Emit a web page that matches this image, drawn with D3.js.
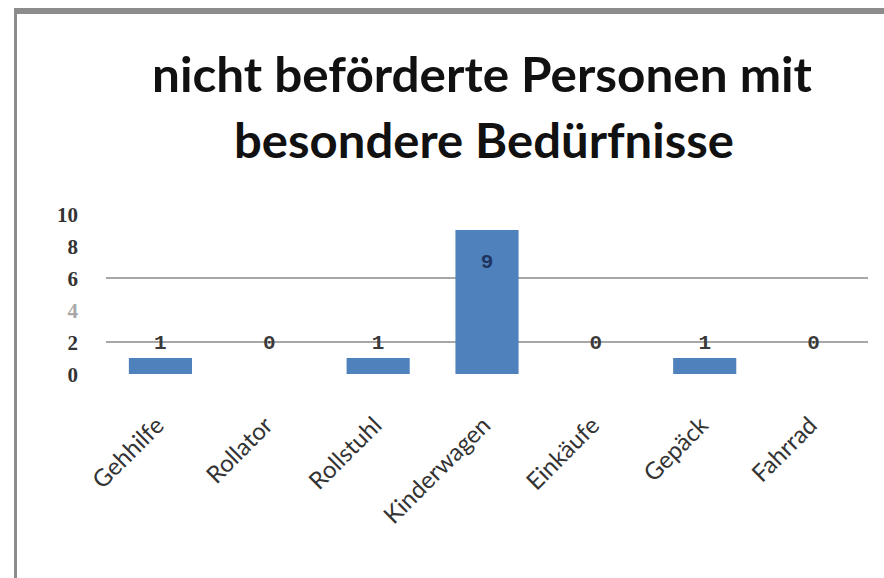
<!DOCTYPE html>
<html>
<head>
<meta charset="utf-8">
<script src="https://cdn.jsdelivr.net/npm/d3@7"></script>
<style>
  html, body { margin: 0; padding: 0; background: #fff; }
  svg { display: block; }
</style>
</head>
<body>
<svg id="chart" width="884" height="578"></svg>
<script>
const titleLines = ["nicht beförderte Personen mit", "besondere Bedürfnisse"];
const categories = ["Gehhilfe", "Rollator", "Rollstuhl", "Kinderwagen", "Einkäufe", "Gepäck", "Fahrrad"];
const values = [1, 0, 1, 9, 0, 1, 0];
const yTicks = [0, 2, 4, 6, 8, 10];
const gridValues = [2, 6];

const W = 884, H = 578;
const svg = d3.select("#chart");

// frame (cropped chart border)
svg.append("rect").attr("x", 14).attr("y", 8).attr("width", W - 14).attr("height", 6).attr("fill", "#8c8c8c");
svg.append("rect").attr("x", 14).attr("y", 8).attr("width", 3).attr("height", H - 8).attr("fill", "#8c8c8c");

// title
const titleG = svg.append("g");
const titleWidths = [660, 500];
const titleY = [92, 158];
const titleX = [482, 484];
titleLines.forEach((t, i) => {
  titleG.append("text")
    .attr("x", titleX[i]).attr("y", titleY[i])
    .attr("text-anchor", "middle")
    .attr("font-family", "Lato, 'Open Sans', sans-serif")
    .attr("font-weight", 700)
    .attr("font-size", 47)
    .attr("fill", "#111")
    .attr("textLength", titleWidths[i])
    .attr("lengthAdjust", "spacingAndGlyphs")
    .text(t);
});

// scales
const plotLeft = 106, plotRight = 868;
const x = d3.scaleBand().domain(categories).range([plotLeft, plotRight]).paddingInner(0.42).paddingOuter(0.21);
const y = d3.scaleLinear().domain([0, 10]).range([374, 214]);

// gridlines
svg.append("g").selectAll("line").data(gridValues).join("line")
  .attr("x1", plotLeft).attr("x2", plotRight)
  .attr("y1", d => y(d)).attr("y2", d => y(d))
  .attr("stroke", "#8a8a8a").attr("stroke-width", 1.6);

// y axis labels
const yAxis = d3.axisLeft(y).tickValues(yTicks).tickSize(0).tickPadding(0).tickFormat(d3.format("d"));
const yg = svg.append("g").attr("transform", "translate(78,0)").call(yAxis);
yg.select(".domain").remove();
yg.selectAll("text")
  .attr("font-family", "'Liberation Serif', 'DejaVu Serif', serif")
  .attr("font-size", 21)
  .attr("font-weight", 700)
  .attr("fill", d => d === 4 ? "#a8a8a8" : "#333")
  .attr("dy", "0.35em");

// bars
svg.append("g").selectAll("rect").data(categories).join("rect")
  .attr("x", d => x(d))
  .attr("y", (d, i) => y(values[i]))
  .attr("width", x.bandwidth())
  .attr("height", (d, i) => y(0) - y(values[i]))
  .attr("fill", "#4f81bd");

// data labels
svg.append("g").selectAll("text").data(categories).join("text")
  .attr("x", d => x(d) + x.bandwidth() / 2)
  .attr("y", (d, i) => values[i] >= 5 ? y(values[i]) + 38 : y(Math.max(values[i], 1)) - 9)
  .attr("text-anchor", "middle")
  .attr("font-family", "'Liberation Mono', 'DejaVu Sans Mono', monospace")
  .attr("font-size", 21)
  .attr("font-weight", 700)
  .attr("fill", (d, i) => values[i] >= 5 ? "#1f3560" : "#3a3a3a")
  .text((d, i) => values[i]);

// x axis labels
const xAxis = d3.axisBottom(x).tickSize(0).tickPadding(0);
const xg = svg.append("g").call(xAxis);
xg.select(".domain").remove();
xg.selectAll(".tick text")
  .attr("x", 0).attr("y", 0).attr("dy", 0)
  .attr("text-anchor", "end")
  .attr("transform", "translate(5,427) rotate(-45)")
  .attr("font-family", "Lato, 'Open Sans', sans-serif")
  .attr("font-size", 24)
  .attr("fill", "#333");
</script>
</body>
</html>
